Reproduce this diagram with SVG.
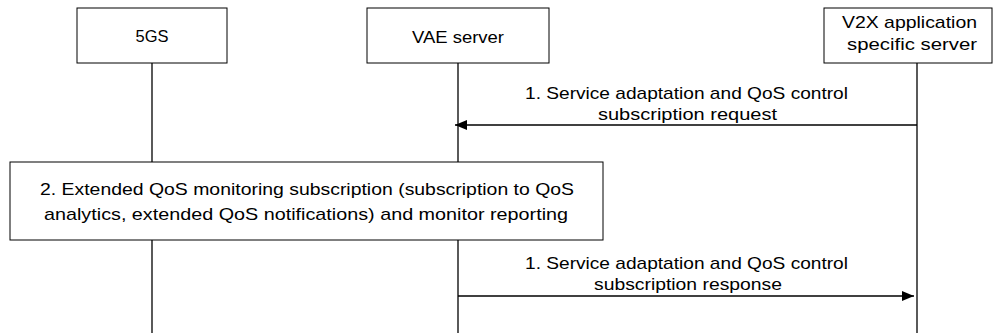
<svg xmlns="http://www.w3.org/2000/svg" width="996" height="333" viewBox="0 0 996 333">
<style>
.box{fill:#fff;stroke:#000;stroke-width:1}
.ll{stroke:#000;stroke-width:1.3;fill:none}
.msg{stroke:#000;stroke-width:1.3;fill:none}
text{font-family:"Liberation Sans",Arial,sans-serif;font-size:17px;fill:#000;text-anchor:middle}
</style>
<defs>
<marker id="ah" viewBox="0 0 12 10" refX="12" refY="5" markerWidth="12" markerHeight="10" markerUnits="userSpaceOnUse" orient="auto">
<path d="M0,0 L12,5 L0,10 z" fill="#000"/>
</marker>
</defs>
<g id="lifelines">
<line class="ll" x1="152" y1="63" x2="152" y2="333"/>
<line class="ll" x1="458" y1="63" x2="458" y2="333"/>
<line class="ll" x1="917" y1="63" x2="917" y2="333"/>
</g>
<g id="n5gs">
<rect class="box" x="77" y="8" width="150" height="55"/>
<text x="152" y="42" textLength="33" lengthAdjust="spacingAndGlyphs">5GS</text>
</g>
<g id="nvae">
<rect class="box" x="367" y="8" width="182" height="55"/>
<text x="458" y="43" textLength="92" lengthAdjust="spacingAndGlyphs">VAE server</text>
</g>
<g id="nv2x">
<rect class="box" x="824" y="8" width="168" height="55"/>
<text x="909.5" y="28" textLength="135" lengthAdjust="spacingAndGlyphs">V2X application</text>
<text x="912" y="50" textLength="130" lengthAdjust="spacingAndGlyphs">specific server</text>
</g>
<g id="connectors">
<line class="msg" x1="917" y1="125" x2="455" y2="125" marker-end="url(#ah)"/>
<line class="msg" x1="458" y1="296" x2="914" y2="296" marker-end="url(#ah)"/>
</g>
<g id="m1label">
<text x="686.5" y="99" textLength="323" lengthAdjust="spacingAndGlyphs">1. Service adaptation and QoS control</text>
<text x="687.5" y="120" textLength="179" lengthAdjust="spacingAndGlyphs">subscription request</text>
</g>
<g id="n2">
<rect class="box" x="10" y="162" width="593" height="78"/>
<text x="307" y="195" textLength="534" lengthAdjust="spacingAndGlyphs">2. Extended QoS monitoring subscription (subscription to QoS</text>
<text x="306" y="220" textLength="524" lengthAdjust="spacingAndGlyphs">analytics, extended QoS notifications) and monitor reporting</text>
</g>
<g id="m3label">
<text x="686.5" y="269" textLength="323" lengthAdjust="spacingAndGlyphs">1. Service adaptation and QoS control</text>
<text x="688" y="290" textLength="188" lengthAdjust="spacingAndGlyphs">subscription response</text>
</g>
</svg>
